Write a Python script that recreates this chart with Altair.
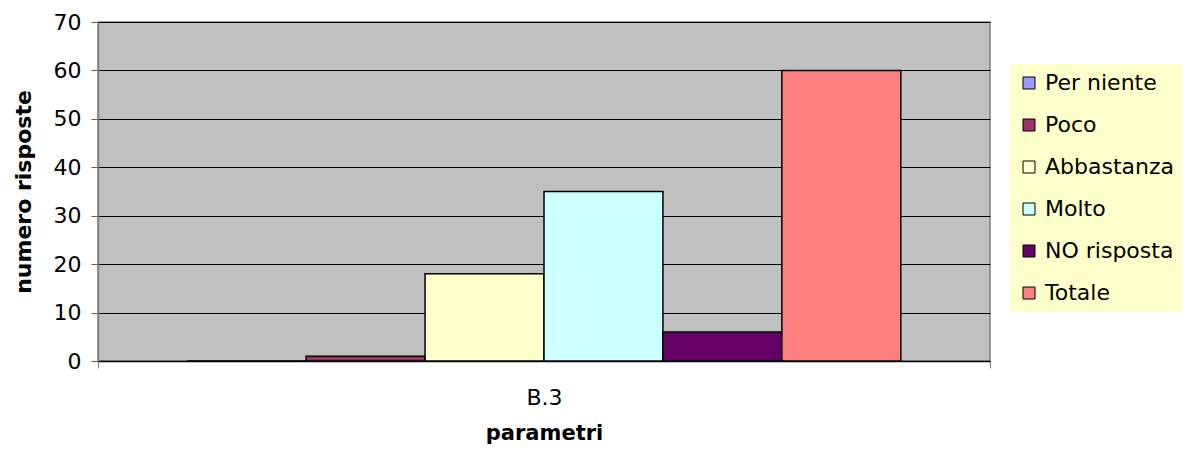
import altair as alt
import pandas as pd

categories = ["B.3"]
series = ["Per niente", "Poco", "Abbastanza", "Molto", "NO risposta", "Totale"]
values = [0, 1, 18, 35, 6, 60]
colors = ["#9999FF", "#993366", "#FFFFCC", "#CCFFFF", "#660066", "#FF8080"]

df = pd.DataFrame({
    "parametro": [categories[0]] * len(series),
    "serie": series,
    "valore": values,
})

FONT = "DejaVu Sans"

chart = alt.Chart(df).mark_bar(stroke="black", strokeWidth=1.5).encode(
    x=alt.X(
        "parametro:N",
        title="parametri",
        scale=alt.Scale(paddingInner=0, paddingOuter=0),
        axis=alt.Axis(
            labelAngle=0,
            labelFontSize=22,
            labelFont=FONT,
            labelColor="black",
            labelPadding=19,
            tickBand="extent",
            tickSize=7,
            tickColor="#808080",
            domainColor="black",
            domainWidth=1.5,
            titleFont=FONT,
            titleFontSize=21,
            titleFontWeight="bold",
            titleColor="black",
            titlePadding=14,
        ),
    ),
    xOffset=alt.XOffset(
        "serie:N",
        sort=series,
        scale=alt.Scale(paddingInner=0, paddingOuter=0.75),
    ),
    y=alt.Y(
        "valore:Q",
        title="numero risposte",
        scale=alt.Scale(domain=[0, 70], nice=False),
        axis=alt.Axis(
            values=list(range(0, 71, 10)),
            grid=True,
            gridColor="black",
            gridOpacity=1,
            gridWidth=1,
            labelFontSize=22,
            labelFont=FONT,
            labelColor="black",
            labelPadding=10,
            tickSize=7,
            tickColor="#606060",
            domainColor="#808080",
            domainWidth=1.5,
            titleFont=FONT,
            titleFontSize=22,
            titleFontWeight="bold",
            titleColor="black",
            titlePadding=18,
        ),
    ),
    color=alt.Color(
        "serie:N",
        sort=series,
        scale=alt.Scale(domain=series, range=colors),
        legend=alt.Legend(
            title=None,
            orient="none",
            legendX=912,
            legendY=42,
            fillColor="#FFFFCC",
            padding=8,
            symbolType="square",
            symbolSize=144,
            symbolStrokeColor="black",
            symbolStrokeWidth=1,
            labelFont=FONT,
            labelFontSize=22,
            labelColor="black",
            labelOffset=5,
            rowPadding=20,
            labelLimit=300,
        ),
    ),
).properties(
    width=892,
    height=339,
    autosize=alt.AutoSizeParams(type="none"),
    padding={"left": 90, "top": 14, "right": 192, "bottom": 88},
).configure_view(
    fill="#C0C0C0",
    stroke="#808080",
    strokeWidth=1.5,
)

chart.save("out.html", embed_options={"renderer": "svg", "actions": False})
